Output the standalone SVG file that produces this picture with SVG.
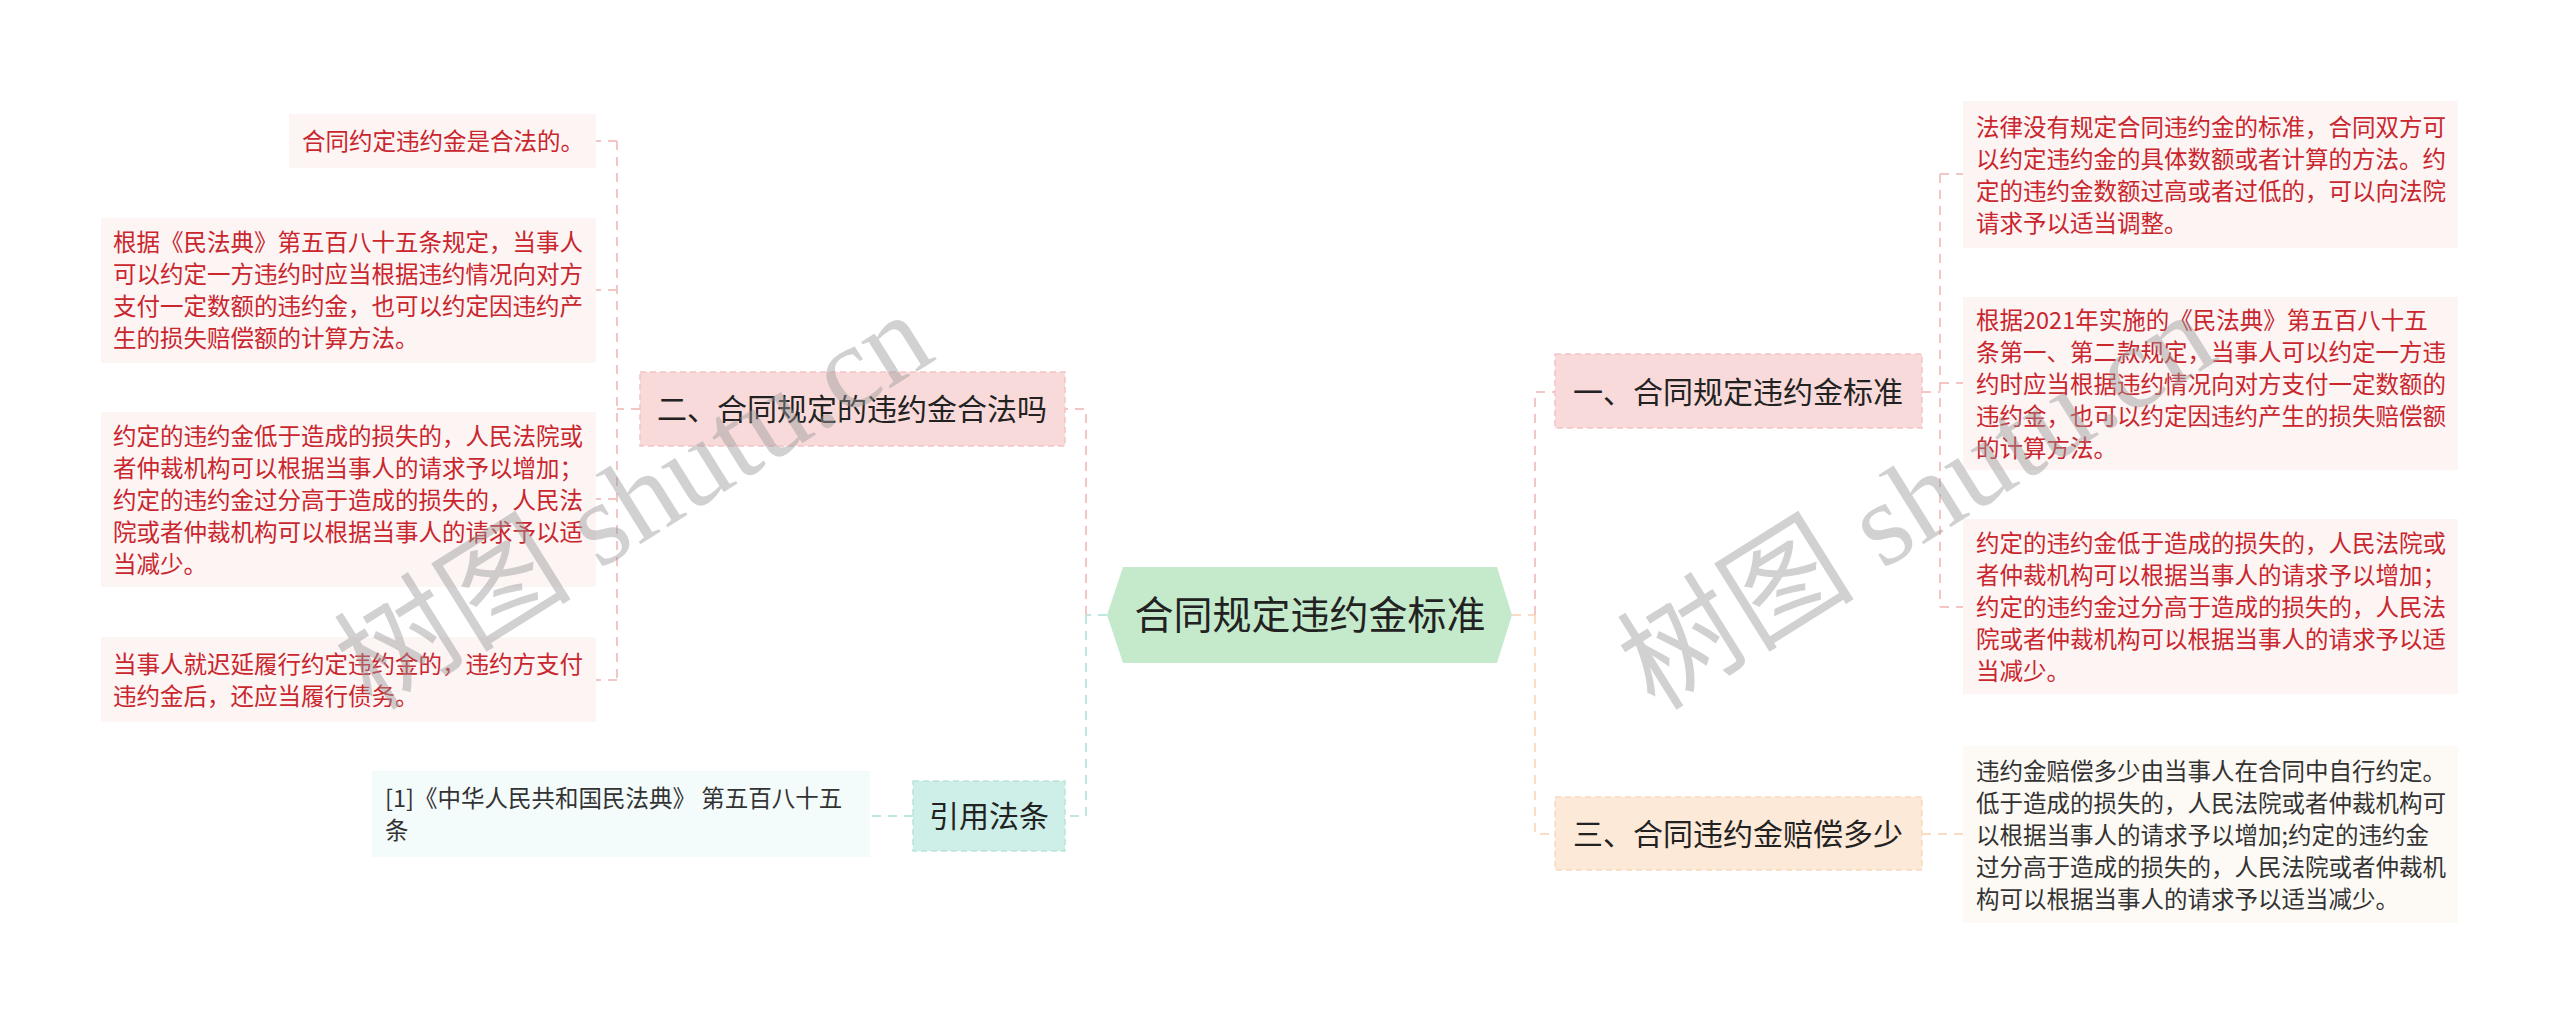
<svg xmlns="http://www.w3.org/2000/svg" width="2560" height="1024" viewBox="0 0 2560 1024">
<style>
text { font-family: "Noto Sans CJK SC", "Noto Sans", sans-serif; }
.red { font-size: 23.5px; fill: #c9262e; }
.blk { font-size: 23.5px; fill: #333333; }
.br { font-size: 30px; fill: #222222; text-anchor: middle; }
.leafR { fill: #fdf4f4; }
.leafY { fill: #fdfaf5; }
.leafT { fill: #f4fbfb; }
.c { fill: none; stroke-width: 2; stroke-dasharray: 9 7; }
.pink { stroke: #f3c5c5; }
.teal { stroke: #bfe7e1; }
.peach { stroke: #fbdcc2; }
.wm { font-family: "Liberation Serif", "Noto Sans CJK SC", serif; font-size: 119px; fill: #9a9a9a; fill-opacity: 0.45; }
</style>
<rect width="2560" height="1024" fill="#ffffff"/>

<g id="connectors">
  <path class="c teal" d="M1107 615 H1086"/>
  <path class="c pink" d="M1086 615 V409 H1065"/>
  <path class="c teal" d="M1086 615 V816 H1065"/>
  <path class="c peach" d="M1512 615 H1535"/>
  <path class="c pink" d="M1535 615 V392 H1555"/>
  <path class="c peach" d="M1535 615 V834 H1555"/>
  <path class="c pink" d="M640 409 H617"/>
  <path class="c pink" d="M617 141 V680"/>
  <path class="c pink" d="M617 141 H596 M617 290 H596 M617 499 H596 M617 680 H596"/>
  <path class="c teal" d="M913 816 H870"/>
  <path class="c pink" d="M1922 392 H1940"/>
  <path class="c pink" d="M1940 174 V607"/>
  <path class="c pink" d="M1940 174 H1963 M1940 383 H1963 M1940 607 H1963"/>
  <path class="c peach" d="M1922 834 H1963"/>
</g>

<g id="center">
  <polygon points="1107,615 1123,567 1497,567 1512,615 1497,663 1123,663" fill="#c5eacb"/>
  <text x="1310" y="629" font-size="39" fill="#222222" text-anchor="middle">合同规定违约金标准</text>
</g>

<g id="b2">
  <rect x="640" y="372" width="425" height="74" fill="#f9dada" stroke="#f3c4c4" stroke-width="1.5" stroke-dasharray="6 4"/>
  <text class="br" x="852" y="420">二、合同规定的违约金合法吗</text>
</g>
<g id="ref">
  <rect x="913" y="781" width="152" height="70" fill="#cdefe7" stroke="#b9e4da" stroke-width="1.5" stroke-dasharray="6 4"/>
  <text class="br" x="989" y="827">引用法条</text>
</g>
<g id="b1">
  <rect x="1555" y="354" width="367" height="74" fill="#f9dada" stroke="#f3c4c4" stroke-width="1.5" stroke-dasharray="6 4"/>
  <text class="br" x="1738" y="403">一、合同规定违约金标准</text>
</g>
<g id="b3">
  <rect x="1555" y="797" width="367" height="73" fill="#fde9d8" stroke="#f8dac0" stroke-width="1.5" stroke-dasharray="6 4"/>
  <text class="br" x="1738" y="845">三、合同违约金赔偿多少</text>
</g>

<g id="l1">
  <rect class="leafR" x="289" y="114" width="307" height="54"/>
  <text class="red" x="302" y="150">合同约定违约金是合法的。</text>
</g>
<g id="l2">
  <rect class="leafR" x="101" y="218" width="495" height="145"/>
  <text class="red" x="113" y="251">根据《民法典》第五百八十五条规定，当事人</text>
  <text class="red" x="113" y="283">可以约定一方违约时应当根据违约情况向对方</text>
  <text class="red" x="113" y="315">支付一定数额的违约金，也可以约定因违约产</text>
  <text class="red" x="113" y="347">生的损失赔偿额的计算方法。</text>
</g>
<g id="l3">
  <rect class="leafR" x="101" y="412" width="495" height="175"/>
  <text class="red" x="113" y="445">约定的违约金低于造成的损失的，人民法院或</text>
  <text class="red" x="113" y="477">者仲裁机构可以根据当事人的请求予以增加；</text>
  <text class="red" x="113" y="509">约定的违约金过分高于造成的损失的，人民法</text>
  <text class="red" x="113" y="541">院或者仲裁机构可以根据当事人的请求予以适</text>
  <text class="red" x="113" y="573">当减少。</text>
</g>
<g id="l4">
  <rect class="leafR" x="101" y="637" width="495" height="85"/>
  <text class="red" x="113" y="673">当事人就迟延履行约定违约金的，违约方支付</text>
  <text class="red" x="113" y="705">违约金后，还应当履行债务。</text>
</g>
<g id="lref">
  <rect class="leafT" x="372" y="771" width="498" height="86"/>
  <text class="blk" x="385" y="807">[1]《中华人民共和国民法典》 第五百八十五</text>
  <text class="blk" x="385" y="839">条</text>
</g>

<g id="r1">
  <rect class="leafR" x="1963" y="101" width="495" height="147"/>
  <text class="red" x="1976" y="136">法律没有规定合同违约金的标准，合同双方可</text>
  <text class="red" x="1976" y="168">以约定违约金的具体数额或者计算的方法。约</text>
  <text class="red" x="1976" y="200">定的违约金数额过高或者过低的，可以向法院</text>
  <text class="red" x="1976" y="232">请求予以适当调整。</text>
</g>
<g id="r2">
  <rect class="leafR" x="1963" y="297" width="495" height="173"/>
  <text class="red" x="1976" y="329">根据2021年实施的《民法典》第五百八十五</text>
  <text class="red" x="1976" y="361">条第一、第二款规定，当事人可以约定一方违</text>
  <text class="red" x="1976" y="393">约时应当根据违约情况向对方支付一定数额的</text>
  <text class="red" x="1976" y="425">违约金，也可以约定因违约产生的损失赔偿额</text>
  <text class="red" x="1976" y="457">的计算方法。</text>
</g>
<g id="r3">
  <rect class="leafR" x="1963" y="519" width="495" height="175"/>
  <text class="red" x="1976" y="552">约定的违约金低于造成的损失的，人民法院或</text>
  <text class="red" x="1976" y="584">者仲裁机构可以根据当事人的请求予以增加；</text>
  <text class="red" x="1976" y="616">约定的违约金过分高于造成的损失的，人民法</text>
  <text class="red" x="1976" y="648">院或者仲裁机构可以根据当事人的请求予以适</text>
  <text class="red" x="1976" y="680">当减少。</text>
</g>
<g id="r4">
  <rect class="leafY" x="1963" y="746" width="495" height="177"/>
  <text class="blk" x="1976" y="780">违约金赔偿多少由当事人在合同中自行约定。</text>
  <text class="blk" x="1976" y="812">低于造成的损失的，人民法院或者仲裁机构可</text>
  <text class="blk" x="1976" y="844">以根据当事人的请求予以增加;约定的违约金</text>
  <text class="blk" x="1976" y="876">过分高于造成的损失的，人民法院或者仲裁机</text>
  <text class="blk" x="1976" y="908">构可以根据当事人的请求予以适当减少。</text>
</g>

<g id="watermark">
  <text class="wm" transform="translate(372,712) rotate(-32)">树图 shutu.cn</text>
  <text class="wm" transform="translate(1655,712) rotate(-32)">树图 shutu.cn</text>
</g>
</svg>
